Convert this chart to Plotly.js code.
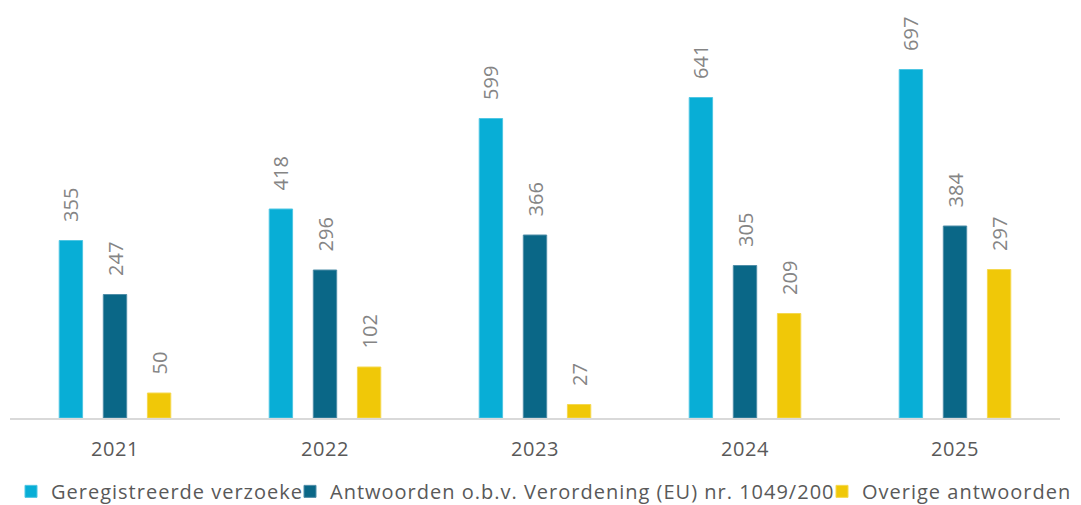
<!DOCTYPE html>
<html>
<head>
<meta charset="utf-8">
<script src="https://cdn.plot.ly/plotly-3.0.1.min.js"></script>
<style>
html,body{margin:0;padding:0;background:#fff;}
#chart{width:1081px;height:505px;}
text.legendtext, .legend text, .legend2 text, .legend3 text{letter-spacing:1px !important;}
.xtick text{letter-spacing:0.6px;}
</style>
</head>
<body>
<div id="chart"></div>
<script>
const years = ['2021', '2022', '2023', '2024', '2025'];
const seriesNames = ['Geregistreerde verzoeke', 'Antwoorden o.b.v. Verordening (EU) nr. 1049/200', 'Overige antwoorden'];
const registered = [355, 418, 599, 641, 697];
const answersEU = [247, 296, 366, 305, 384];
const otherAnswers = [50, 102, 27, 209, 297];

const colors = ['#08AED6', '#0A6787', '#F0C808'];
const edge = ['#4fc6e3', '#4f8ea8', '#f5d84f'];
const values = [registered, answersEU, otherAnswers];
const legends = ['legend', 'legend2', 'legend3'];

const traces = values.map((v, i) => ({
  type: 'bar',
  name: seriesNames[i],
  x: years,
  y: v,
  legend: legends[i],
  marker: {color: colors[i], line: {color: edge[i], width: 1}},
  text: v.map(String),
  texttemplate: '\u00a0\u00a0\u00a0%{text}',
  textposition: 'outside',
  textangle: -90,
  constraintext: 'none',
  cliponaxis: false,
  textfont: {family: 'Open Sans', size: 20, color: '#858585'},
  hoverinfo: 'skip'
}));

const legendBase = {
  orientation: 'h', xref: 'container', yref: 'container',
  xanchor: 'left', yanchor: 'middle', y: 0.027,
  bgcolor: 'rgba(0,0,0,0)', borderwidth: 0,
  font: {family: 'Open Sans', size: 20, color: '#595959'}
};

const layout = {
  width: 1081, height: 505,
  margin: {l: 10, r: 21, t: 0, b: 87},
  paper_bgcolor: '#fff', plot_bgcolor: '#fff',
  barmode: 'group', bargap: 0.37, bargroupgap: 0.47,
  showlegend: true,
  legend: Object.assign({}, legendBase, {x: 11 / 1081}),
  legend2: Object.assign({}, legendBase, {x: 290 / 1081}),
  legend3: Object.assign({}, legendBase, {x: 822 / 1081}),
  xaxis: {
    showline: true, linecolor: '#d9d9d9', linewidth: 2,
    ticks: '', showgrid: false, zeroline: false,
    tickfont: {family: 'Open Sans', size: 20, color: '#595959'},
    ticklabelstandoff: 12
  },
  yaxis: {range: [0, 836], visible: false, showgrid: false, zeroline: false},
  font: {family: 'Open Sans'}
};

Plotly.newPlot('chart', traces, layout, {displayModeBar: false, staticPlot: true}).then(() => {
  document.querySelectorAll('#chart .infolayer g[class^="legend"], #chart .infolayer g[class^="legend"] *').forEach(el => {
    if (el.hasAttribute('clip-path')) el.removeAttribute('clip-path');
  });
});
</script>
</body>
</html>
